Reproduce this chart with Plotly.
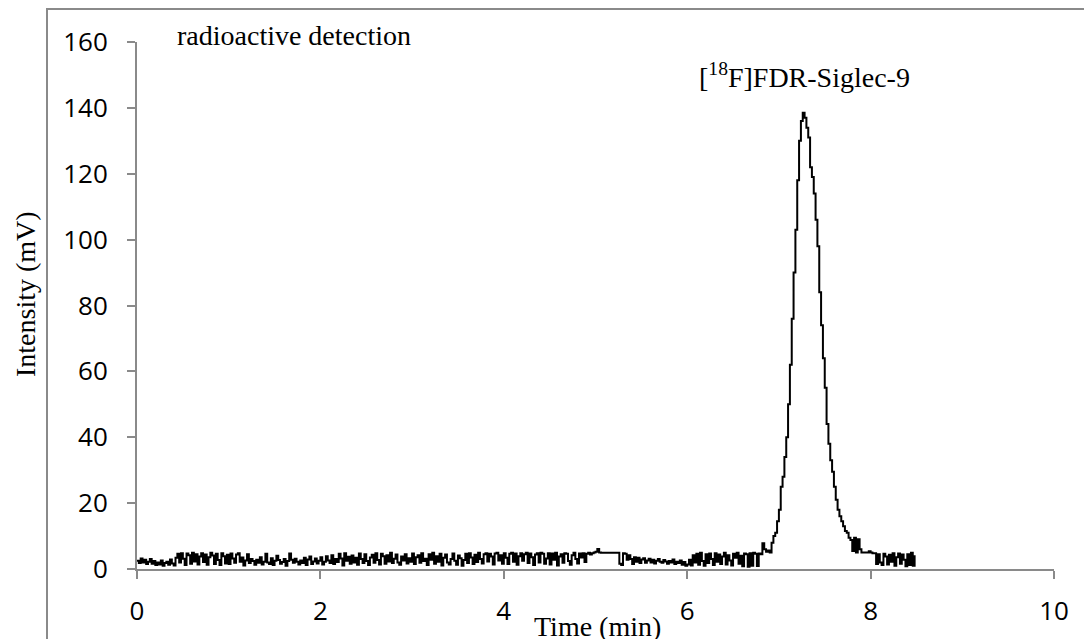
import plotly.graph_objects as go

# Sampling interval of the detector trace (min)
sample_step = 0.02

# Intensity (mV), one value per sample starting at t = 0
intensity_0_1 = [2.5, 1.8, 3.2, 2.0, 2.8, 1.5, 2.2, 3.0, 1.6, 2.4,
                 1.2, 2.0, 1.4, 2.6, 1.0, 1.8, 2.2, 1.3, 2.9, 1.7,
                 1.1, 3.4, 4.6, 2.0, 4.8, 3.1, 1.2, 4.7, 4.2, 1.6,
                 4.9, 2.3, 4.5, 1.4, 3.8, 4.8, 2.1, 4.4, 1.3, 3.6,
                 4.9, 4.1, 1.5, 4.6, 2.7, 1.2, 4.8, 3.9, 1.7, 4.3]
intensity_1_2 = [1.5, 4.7, 3.2, 1.9, 4.4, 4.8, 2.2, 3.5, 1.1, 2.6,
                 4.5, 1.8, 3.0, 2.4, 1.3, 2.8, 1.9, 3.6, 1.4, 2.2,
                 4.6, 2.0, 1.5, 3.3, 1.2, 2.5, 4.0, 2.7, 1.6, 2.1,
                 3.0, 1.0, 2.4, 4.7, 2.8, 1.9, 3.1, 2.2, 1.4, 2.6,
                 1.8, 3.4, 1.2, 2.9, 3.8, 1.5, 2.3, 3.2, 1.7, 2.5]
intensity_2_3 = [3.6, 1.4, 2.2, 3.9, 2.6, 1.8, 4.2, 1.5, 3.0, 2.1,
                 4.6, 3.2, 1.1, 4.8, 2.5, 3.7, 1.6, 4.1, 2.0, 3.4,
                 1.3, 4.7, 3.0, 1.8, 4.5, 2.4, 1.2, 3.5, 4.3, 1.9,
                 4.8, 2.7, 1.4, 4.6, 3.9, 1.6, 4.2, 2.3, 4.9, 1.8,
                 3.1, 4.4, 2.0, 1.3, 3.8, 2.6, 4.5, 1.7, 3.3, 2.2]
intensity_3_4 = [4.7, 1.5, 3.6, 4.2, 1.9, 4.8, 2.4, 3.1, 1.2, 4.5,
                 2.8, 4.9, 1.6, 3.9, 2.2, 4.6, 1.1, 3.4, 4.4, 2.0,
                 1.4, 3.0, 4.7, 2.5, 1.3, 4.1, 3.3, 1.0, 2.7, 4.6,
                 1.8, 4.8, 3.5, 1.5, 4.3, 2.1, 4.9, 3.0, 1.7, 4.5,
                 4.8, 2.3, 4.6, 3.8, 1.4, 4.7, 4.9, 2.6, 4.2, 1.6]
intensity_4_5 = [4.8, 3.4, 1.5, 4.6, 4.9, 2.2, 4.7, 1.3, 3.9, 4.8,
                 2.5, 4.5, 4.9, 1.8, 4.7, 3.6, 1.2, 4.4, 4.8, 2.0,
                 4.9, 4.6, 1.6, 3.2, 4.8, 1.4, 4.7, 2.8, 4.9, 1.1,
                 3.8, 4.5, 1.9, 4.8, 4.6, 2.4, 1.3, 4.2, 4.9, 3.0,
                 1.7, 4.7, 3.5, 4.8, 2.1, 4.6, 4.9, 4.4, 4.8, 5.0]
intensity_5_6 = [5.2, 6.1, 5.0, 4.9, 4.9, 4.9, 4.9, 4.9, 4.9, 4.9,
                 4.9, 4.9, 4.9, 1.6, 1.2, 4.8, 4.6, 2.8, 4.2, 3.0,
                 1.5, 3.6, 2.2, 3.4, 1.8, 2.9, 3.3, 1.9, 2.6, 3.1,
                 2.0, 2.8, 1.7, 2.5, 3.0, 2.2, 1.9, 2.7, 2.3, 1.6,
                 2.4, 2.0, 2.9, 1.5, 2.2, 1.8, 2.6, 1.3, 2.1, 1.0]
intensity_6_68 = [1.4, 2.8, 1.1, 4.2, 2.0, 4.6, 1.3, 4.9, 2.4, 1.0,
                  4.5, 1.8, 4.7, 3.0, 1.2, 4.8, 2.2, 4.4, 1.5, 3.8,
                  4.9, 1.4, 4.2, 2.6, 1.1, 4.6, 3.4, 4.9, 1.6, 4.0,
                  0.8, 4.7, 4.5, 0.7, 4.8, 1.0, 4.9, 4.6, 0.9, 4.7]
intensity_peak = [4.5, 7.8, 6.0, 5.2, 5.6, 5.0, 8.0, 10.0, 11.0, 14.5,
                  18.0, 25.0, 28.0, 34.0, 40.0, 50.0, 62.0, 76.0, 90.0, 103.0,
                  118.0, 130.0, 136.0, 138.5, 137.0, 134.0, 131.0, 122.0, 119.0, 114.0,
                  106.0, 98.0, 84.0, 74.0, 64.0, 55.0, 44.0, 38.0, 33.0, 29.5,
                  25.0, 21.0, 18.0, 16.0, 14.5, 13.0, 11.5, 11.0, 9.5, 8.8,
                  5.5, 9.5, 5.0, 9.0, 6.0, 5.0, 5.0, 5.0, 5.0, 5.4,
                  5.0, 4.8, 4.8, 1.5, 4.5, 2.0, 1.2, 4.6, 3.8, 1.4,
                  4.3, 2.2, 4.8, 1.0, 3.6, 4.7, 1.6, 4.4, 2.8, 0.8,
                  4.5, 1.2, 4.9, 1.0, 4.2]

intensity = (intensity_0_1 + intensity_1_2 + intensity_2_3 + intensity_3_4
             + intensity_4_5 + intensity_5_6 + intensity_6_68 + intensity_peak)
time_min = [round(i * sample_step, 2) for i in range(len(intensity))]

x_ticks = [0, 2, 4, 6, 8, 10]
y_ticks = [0, 20, 40, 60, 80, 100, 120, 140, 160]

serif = "Liberation Serif, Times New Roman, serif"
sans = "Open Sans, Noto Sans, sans-serif"
axis_gray = "#8a8a8a"

fig = go.Figure()
fig.add_trace(go.Scatter(x=time_min, y=intensity, mode="lines",
                         line=dict(color="black", width=2, shape="hv"), showlegend=False,
                         hoverinfo="skip"))

# The page adds an 8px body margin, so the figure is 8px smaller than the window
fig.update_layout(
    width=1084, height=631,
    margin=dict(l=129, r=38, t=34, b=70),
    paper_bgcolor="white", plot_bgcolor="white",
    showlegend=False,
)
fig.update_xaxes(range=[0, 10], tickvals=x_ticks, ticktext=[str(v) for v in x_ticks],
                 showgrid=False, zeroline=False, showline=True, linecolor=axis_gray,
                 linewidth=2, ticks="outside", ticklen=8, tickwidth=2, tickcolor=axis_gray,
                 tickfont=dict(family=sans, size=26, color="black"), ticklabelstandoff=10)
fig.update_yaxes(range=[0, 160], tickvals=y_ticks, ticktext=[str(v) for v in y_ticks],
                 showgrid=False, zeroline=False, showline=True, linecolor=axis_gray,
                 linewidth=2, ticks="outside", ticklen=8, tickwidth=2, tickcolor=axis_gray,
                 tickfont=dict(family=sans, size=26, color="black"), ticklabelstandoff=14)

# Outer chart frame (cut by the image at right and bottom)
fig.add_shape(type="rect", xref="paper", yref="paper",
              x0=(47 - 137) / 917, x1=1.06, y0=-0.2, y1=1 + (42 - 9) / 527,
              line=dict(color=axis_gray, width=2), fillcolor="rgba(0,0,0,0)", layer="below")

fig.add_annotation(text="radioactive detection", xref="paper", yref="paper",
                   x=(175 - 137) / 917, y=1 + (42 - 35) / 527, xanchor="left", yanchor="middle",
                   showarrow=False, font=dict(family=serif, size=28, color="black"))
fig.add_annotation(text="[<sup>18</sup>F]FDR-Siglec-9", xref="paper", yref="paper",
                   x=(697 - 137) / 917, y=1 - (75 - 42) / 527, xanchor="left", yanchor="middle",
                   showarrow=False, font=dict(family=serif, size=28, color="black"))
fig.add_annotation(text="Intensity (mV)", xref="paper", yref="paper",
                   x=(25 - 137) / 917, y=(569 - 294) / 527, xanchor="center", yanchor="middle",
                   textangle=-90, showarrow=False, font=dict(family=serif, size=28, color="black"))
fig.add_annotation(text="Time (min)", xref="paper", yref="paper",
                   x=(597 - 137) / 917, y=(569 - 626) / 527, xanchor="center", yanchor="middle",
                   showarrow=False, font=dict(family=serif, size=28, color="black"))

fig.write_html("out.html")
